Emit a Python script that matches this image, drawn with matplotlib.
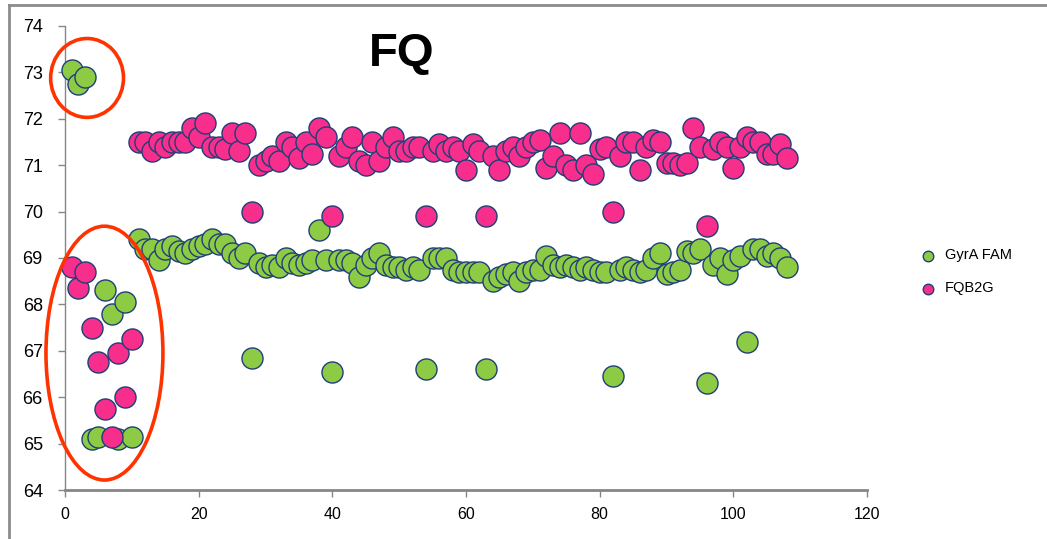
#!/usr/bin/env python3
# -*- coding: utf-8 -*-

"""
FQ melt scatter - GyrA FAM vs FQB2G per sample index,
with the odd samples at the start circled in red.
"""

import numpy as np
import matplotlib
matplotlib.use('Agg')
import matplotlib.pyplot as plt
from matplotlib.patches import Ellipse
from matplotlib.lines import Line2D

plt.rcParams['font.family'] = ['Liberation Sans', 'DejaVu Sans']

# sample index (1..108)
sample = list(range(1, 109))

gyra_fam = [73.05, 72.75, 72.9, 65.1, 65.15, 68.3, 67.8, 65.1, 68.05, 65.15,
            69.4, 69.2, 69.2, 68.95, 69.2, 69.25, 69.15, 69.1, 69.2, 69.25,
            69.3, 69.4, 69.3, 69.3, 69.1, 69.0, 69.1, 66.85, 68.9, 68.8,
            68.85, 68.8, 69.0, 68.9, 68.85, 68.9, 68.95, 69.6, 68.95, 66.55,
            68.95, 68.95, 68.9, 68.6, 68.85, 69.0, 69.1, 68.85, 68.8, 68.8,
            68.75, 68.8, 68.75, 66.6, 69.0, 69.0, 69.0, 68.75, 68.7, 68.7,
            68.7, 68.7, 66.6, 68.5, 68.6, 68.65, 68.7, 68.5, 68.7, 68.75,
            68.75, 69.05, 68.85, 68.8, 68.85, 68.8, 68.75, 68.8, 68.75, 68.7,
            68.7, 66.45, 68.75, 68.8, 68.75, 68.7, 68.75, 69.0, 69.1, 68.65,
            68.7, 68.75, 69.15, 69.1, 69.2, 66.3, 68.85, 69.0, 68.65, 68.95,
            69.05, 67.2, 69.2, 69.2, 69.05, 69.1, 69.0, 68.8]

fqb2g = [68.8, 68.35, 68.7, 67.5, 66.75, 65.75, 65.15, 66.95, 66.0, 67.25,
         71.5, 71.5, 71.3, 71.5, 71.4, 71.5, 71.5, 71.5, 71.8, 71.6,
         71.9, 71.4, 71.4, 71.35, 71.7, 71.3, 71.7, 70.0, 71.0, 71.1,
         71.2, 71.1, 71.5, 71.4, 71.15, 71.5, 71.25, 71.8, 71.6, 69.9,
         71.2, 71.4, 71.6, 71.1, 71.0, 71.5, 71.1, 71.4, 71.6, 71.3,
         71.3, 71.4, 71.4, 69.9, 71.3, 71.45, 71.3, 71.4, 71.3, 70.9,
         71.45, 71.3, 69.9, 71.2, 70.9, 71.3, 71.4, 71.2, 71.4, 71.5,
         71.55, 70.95, 71.2, 71.7, 71.0, 70.9, 71.7, 71.0, 70.8, 71.35,
         71.4, 70.0, 71.2, 71.5, 71.5, 70.9, 71.4, 71.55, 71.5, 71.05,
         71.05, 71.0, 71.05, 71.8, 71.4, 69.7, 71.35, 71.5, 71.4, 70.95,
         71.4, 71.6, 71.5, 71.5, 71.25, 71.25, 71.45, 71.15]

series_names = ['GyrA FAM', 'FQB2G']
series_colors = ['#8ECB45', '#F72E8C']

fig = plt.figure(figsize=(10.47, 5.39), dpi=100)
ax = fig.add_axes([0.0621, 0.0909, 0.7660, 0.8609])

for vals, name, col in zip([gyra_fam, fqb2g], series_names, series_colors):
    ax.scatter(sample, vals, s=230, c=col, edgecolors='#1F3F78',
               linewidths=1.0, label=name, zorder=3, clip_on=False)

# red circles round the odd samples
ax.add_patch(Ellipse((3.3, 72.88), 10.9, 1.70, fill=False, clip_on=False,
                     edgecolor='#FF3300', linewidth=2.6, zorder=4))
ax.add_patch(Ellipse((5.9, 66.95), 17.5, 5.47, fill=False, clip_on=False,
                     edgecolor='#FF3300', linewidth=2.6, zorder=4))

ax.text(50.4, 73.4, 'FQ', fontsize=34, fontweight='bold',
        ha='center', va='center')

ax.set_xlim(0, 120)
ax.set_ylim(64, 74)
ax.set_xticks(np.arange(0, 121, 20))
ax.set_yticks(np.arange(64, 75, 1))

for side in ['top', 'right']:
    ax.spines[side].set_visible(False)
for side in ['left', 'bottom']:
    ax.spines[side].set_color('#868686')
    ax.spines[side].set_linewidth(1.0)
ax.spines['bottom'].set_linewidth(2.0)
ax.tick_params(axis='y', direction='out', length=5, width=1, color='#868686',
               labelsize=13, pad=11)
ax.tick_params(axis='x', direction='out', length=5, width=1, color='#868686',
               labelsize=11.5, pad=7)

ax.legend(loc='center left', bbox_to_anchor=(1.05, 0.47), frameon=False,
          fontsize=10.5, markerscale=0.5, handletextpad=0.2,
          labelspacing=1.3, borderaxespad=0)

# chart area frame (left and top edges only visible)
fig.add_artist(Line2D([9 / 1047, 9 / 1047], [0, 1 - 5 / 539],
                      color='#8C8C8C', linewidth=2))
fig.add_artist(Line2D([9 / 1047, 1], [1 - 5 / 539, 1 - 5 / 539],
                      color='#8C8C8C', linewidth=2))

fig.savefig('out.png', dpi=100)
